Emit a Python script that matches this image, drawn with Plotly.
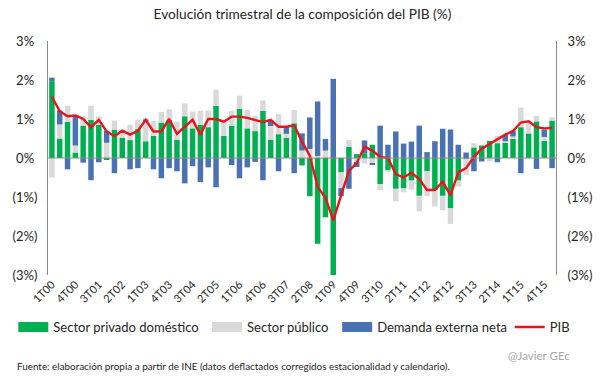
import plotly.graph_objects as go

quarters = [f"{q}T{yy:02d}" for yy in range(0, 16) for q in range(1, 5)] + ["1T16"]

privado = [1.97, 0.50, 0.93, 0.14, 0.83, 0.98, 0.85, -0.03, 0.73, 0.52,
           0.46, 0.74, 0.43, 0.57, 0.91, 0.98, 0.47, 1.07, 0.76, 0.85,
           0.79, 1.34, 0.57, 0.83, 1.26, 0.76, 0.69, 1.21, 0.47, 0.61,
           0.52, 0.89, -0.19, -0.98, -2.20, -1.52, -3.65, -0.37, 0.29, 0.10,
           0.12,
           0.34, -0.67, -0.31, -0.79, -0.78, -0.58, -0.97, -0.34, -0.82, -0.97,
           -1.29, -0.58, -0.02, 0.27, 0.32, 0.44, 0.38, 0.40, 0.50, 0.79,
           0.63, 0.94, 0.44, 0.96]
publico = [-0.50, 0.36, 0.41, 0.18, 0.25, 0.36, 0.22, 0.39, 0.23, 0.14,
           0.39, 0.24, 0.49, 0.38, 0.27, 0.27, 0.46, 0.33, 0.43, 0.36,
           0.43, 0.41, 0.36, 0.38, 0.34, 0.47, 0.40, 0.27, 0.35, 0.52,
           0.10, 0.34, 0.19, 0.23, 0.05, 0.19, 0.00, -0.40, 0.17, -0.10,
           -0.14,
           -0.15, -0.15, -0.06, -0.32, -0.10, -0.23, -0.40, -0.64, -0.42, -0.37,
           -0.40, -0.15, -0.41, 0.11, 0.00, -0.09, 0.19, 0.03, 0.05, 0.50,
           0.32, 0.14, 0.10, 0.08]
externa = [0.09, 0.36, -0.29, 0.75, -0.12, -0.57, -0.11, 0.31, -0.39, 0.04,
           -0.29, -0.26, 0.07, -0.29, -0.52, -0.26, -0.34, -0.65, -0.21, -0.62,
           -0.24, -0.75, 0.00, -0.18, -0.52, -0.24, -0.10, -0.57, 0.15, -0.34,
           0.18, -0.39, 0.44, 0.81, 1.40, 0.30, 2.03, -0.21, -0.79, -0.13,
           0.33,
           -0.03, 0.83, 0.34, 0.68, 0.37, 0.42, 0.83, 0.15, 0.43, 0.75,
           0.73, 0.34, 0.14, -0.34, -0.09, 0.00, -0.11, 0.16, 0.15, -0.39,
           0.00, -0.28, 0.19, -0.26]
pib = [1.57, 1.20, 1.07, 1.09, 1.00, 0.79, 0.98, 0.68, 0.56, 0.70,
       0.60, 0.70, 0.98, 0.68, 0.68, 1.00, 0.62, 0.79, 0.98, 0.60,
       1.00, 1.00, 0.93, 1.06, 1.06, 1.03, 0.98, 0.92, 0.98, 0.80,
       0.80, 0.84, 0.42, 0.06, -0.74, -1.02, -1.60, -0.96, -0.33, -0.13,
       0.29,
       0.19, 0.03, 0.00, -0.41, -0.50, -0.38, -0.54, -0.82, -0.82, -0.61,
       -0.95, -0.37, -0.26, 0.03, 0.24, 0.36, 0.48, 0.60, 0.69, 0.91,
       0.94, 0.79, 0.76, 0.77]

tick_labels = ["1T00", "4T00", "3T01", "2T02", "1T03", "4T03", "3T04", "2T05",
               "1T06", "4T06", "3T07", "2T08", "1T09", "4T09", "3T10", "2T11",
               "1T12", "4T12", "3T13", "2T14", "1T15", "4T15"]
y_ticks = [3, 2, 1, 0, -1, -2, -3]
y_tick_text = ["3%\u00a0", "2%\u00a0", "1%\u00a0", "0%\u00a0", "(1%)", "(2%)", "(3%)"]

GREEN = "#00B050"
GRAY = "#D9D9D9"
BLUE = "#4A71B2"
RED = "#E8141B"
FONT = "Lato"
TXT = "#262626"

W, H = 605, 378
L, R, T, B = 39, 39, 41, 103
PW, PH = W - L - R, H - T - B

def px_x(x):
    return (x - L) / PW

def px_y(y):
    return (H - B - y) / PH

fig = go.Figure()
series = [("Sector privado doméstico", privado, GREEN, "legend"),
          ("Sector público", publico, GRAY, "legend2"),
          ("Demanda externa neta", externa, BLUE, "legend3")]
for name, vals, col, lg in series:
    fig.add_trace(go.Bar(x=quarters, y=vals, name=name, marker_color=col,
                         marker_line_width=0, showlegend=False))
    fig.add_trace(go.Scatter(x=[None], y=[None], mode="lines", name=name,
                             line=dict(color=col, width=10), legend=lg))

fig.add_trace(go.Scatter(x=quarters, y=pib, name="PIB", mode="lines",
                         line=dict(color=RED, width=2.4), yaxis="y2",
                         legend="legend4"))

axis_y = dict(range=[-3, 3], tickvals=y_ticks, ticktext=y_tick_text,
              showgrid=False, zeroline=False, showline=True,
              linecolor="#8C8C8C", linewidth=1, ticks="",
              tickfont=dict(family=FONT, size=13, color=TXT),
              fixedrange=True)

leg_common = dict(orientation="h", yanchor="middle", xanchor="left",
                  bgcolor="rgba(0,0,0,0)",
                  font=dict(family=FONT, size=13, color=TXT),
                  itemwidth=30)

fig.update_layout(
    width=W, height=H,
    margin=dict(l=L, r=R, t=T, b=B),
    paper_bgcolor="white", plot_bgcolor="white",
    barmode="relative", bargap=0.30,
    title=dict(text="Evolución trimestral de la composición del PIB (%)",
               x=0.5, xref="container", xanchor="center",
               y=1 - 14 / H, yref="container", yanchor="middle",
               font=dict(family=FONT, size=13.7, color=TXT)),
    xaxis=dict(type="category", tickmode="array", tickvals=tick_labels,
               ticktext=tick_labels, tickangle=-45, showgrid=False,
               showline=False, zeroline=False, ticks="",
               tickfont=dict(family=FONT, size=11, color=TXT)),
    yaxis=dict(**axis_y, side="left", ticklabelstandoff=7),
    yaxis2=dict(**axis_y, side="right", overlaying="y", ticklabelstandoff=8),
    legend=dict(**leg_common, x=px_x(3), y=px_y(327)),
    legend2=dict(**leg_common, x=px_x(204), y=px_y(327)),
    legend3=dict(**leg_common, x=px_x(339), y=px_y(327)),
    legend4=dict(**leg_common, x=px_x(518), y=px_y(327)),
    shapes=[dict(type="line", xref="paper", yref="y", x0=0, x1=1, y0=0, y1=0,
                 line=dict(color="#8C8C8C", width=1), layer="above")],
    annotations=[
        dict(text="Fuente: elaboración propia a partir de INE (datos deflactados corregidos estacionalidad y calendario).",
             xref="paper", yref="paper", x=px_x(5), y=px_y(366),
             xanchor="left", yanchor="middle", showarrow=False,
             font=dict(family=FONT, size=9.9, color=TXT)),
        dict(text="@Javier GEc", xref="paper", yref="paper",
             x=px_x(583), y=px_y(355), xanchor="right", yanchor="middle",
             showarrow=False, font=dict(family=FONT, size=11.5, color="#A6A6A6")),
    ],
)

fig.write_html("out.html", config={"displayModeBar": False},
               post_script="document.body.style.margin='0';"
                           "document.body.style.padding='0';"
                           "document.body.style.overflow='hidden';")
